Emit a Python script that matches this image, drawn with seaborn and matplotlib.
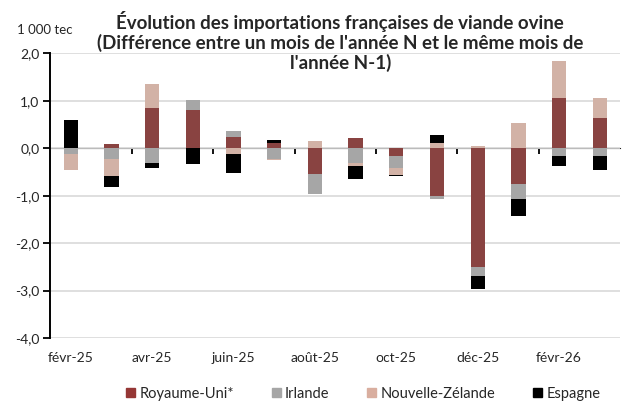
import numpy as np
import pandas as pd
import seaborn as sns
import matplotlib.pyplot as plt
from matplotlib.patches import Patch

# Monthly difference vs same month of previous year (1 000 tec)
months = ['févr-25', 'mars-25', 'avr-25', 'mai-25', 'juin-25', 'juil-25', 'août-25',
          'sept-25', 'oct-25', 'nov-25', 'déc-25', 'janv-26', 'févr-26', 'mars-26']
royaume_uni = [0.00, 0.09, 0.84, 0.81, 0.24, 0.10, -0.55, 0.21, -0.16, -1.00, -2.50, -0.76, 1.05, 0.63]
irlande = [-0.13, -0.22, -0.31, 0.21, 0.13, -0.22, -0.41, -0.32, -0.25, -0.08, -0.19, -0.30, -0.17, -0.17]
nouvelle_zelande = [-0.32, -0.36, 0.51, 0.00, -0.12, -0.02, 0.16, -0.05, -0.15, 0.11, 0.05, 0.54, 0.79, 0.43]
espagne = [0.59, -0.23, -0.10, -0.34, -0.41, 0.07, 0.00, -0.28, -0.03, 0.16, -0.28, -0.36, -0.21, -0.30]

series_names = ['Royaume-Uni*', 'Irlande', 'Nouvelle-Zélande', 'Espagne']
series_vals = [royaume_uni, irlande, nouvelle_zelande, espagne]
colors = ['#953735', '#A6A6A6', '#D9AE9F', '#000000']

sns.set_style('white')
plt.rcParams['font.family'] = ['Lato', 'DejaVu Sans']

fig, ax = plt.subplots(figsize=(6.22, 4.03), dpi=100)
fig.subplots_adjust(left=0.081, right=0.997, top=0.868, bottom=0.161)

# Stack positives upward and negatives downward, in series order
pos_base = np.zeros(len(months))
neg_base = np.zeros(len(months))
for name, vals, c in zip(series_names, series_vals, colors):
    v = np.array(vals)
    pos = np.where(v > 0, v, 0)
    neg = np.where(v < 0, v, 0)
    sns.barplot(x=months, y=pos, bottom=pos_base, color=c, width=0.35,
                linewidth=0, ax=ax, order=months)
    sns.barplot(x=months, y=neg, bottom=neg_base, color=c, width=0.35,
                linewidth=0, ax=ax, order=months)
    pos_base += pos
    neg_base += neg

ax.set_ylim(-4, 2)
ax.set_xlim(-0.5, len(months) - 0.5)
ax.set_yticks(np.arange(-4, 2.5, 1))
ax.set_yticklabels([f'{t:.1f}'.replace('.', ',') for t in np.arange(-4, 2.5, 1)])
ax.yaxis.grid(True, color='#D9D9D9', linewidth=1.2)
ax.set_axisbelow(True)

ax.set_xticks(range(0, len(months), 2))
ax.set_xticklabels(months[::2])
ax.tick_params(axis='x', length=0, pad=10, labelsize=10)
ax.tick_params(axis='y', direction='out', length=5, width=1.3, color='black',
               labelsize=10, left=True, pad=3)
ax.set_xlabel('')
ax.set_ylabel('')
for s in ['top', 'right', 'bottom']:
    ax.spines[s].set_visible(False)
ax.spines['left'].set_color('black')
ax.spines['left'].set_linewidth(1.4)

# zero line with tick marks between category pairs
sec = ax.secondary_xaxis(4 / 6)
sec.set_xticks(np.arange(1.5, len(months) - 1, 2))
sec.set_xticklabels([])
sec.tick_params(direction='in', length=4, width=1.3, color='black')
sec.spines['bottom'].set_color('black')
sec.spines['bottom'].set_linewidth(1.4)

fig.text(0.547, 0.972, "Évolution des importations françaises de viande ovine\n"
         "(Différence entre un mois de l'année N et le même mois de\nl'année N-1)",
         ha='center', va='top', fontsize=13.5, fontweight='bold', linespacing=1.12)
fig.text(0.072, 1 - 30 / 403, '1 000 tec', ha='center', va='center', fontsize=9.5)

handles = [Patch(color=c, label=n) for n, c in zip(series_names, colors)]
fig.legend(handles=handles, loc='center', bbox_to_anchor=(0.584, 0.023), ncol=4,
           frameon=False, fontsize=10.5, handlelength=0.6, handleheight=0.6,
           handletextpad=0.3, columnspacing=2.6)

plt.savefig('out.png', dpi=100)
